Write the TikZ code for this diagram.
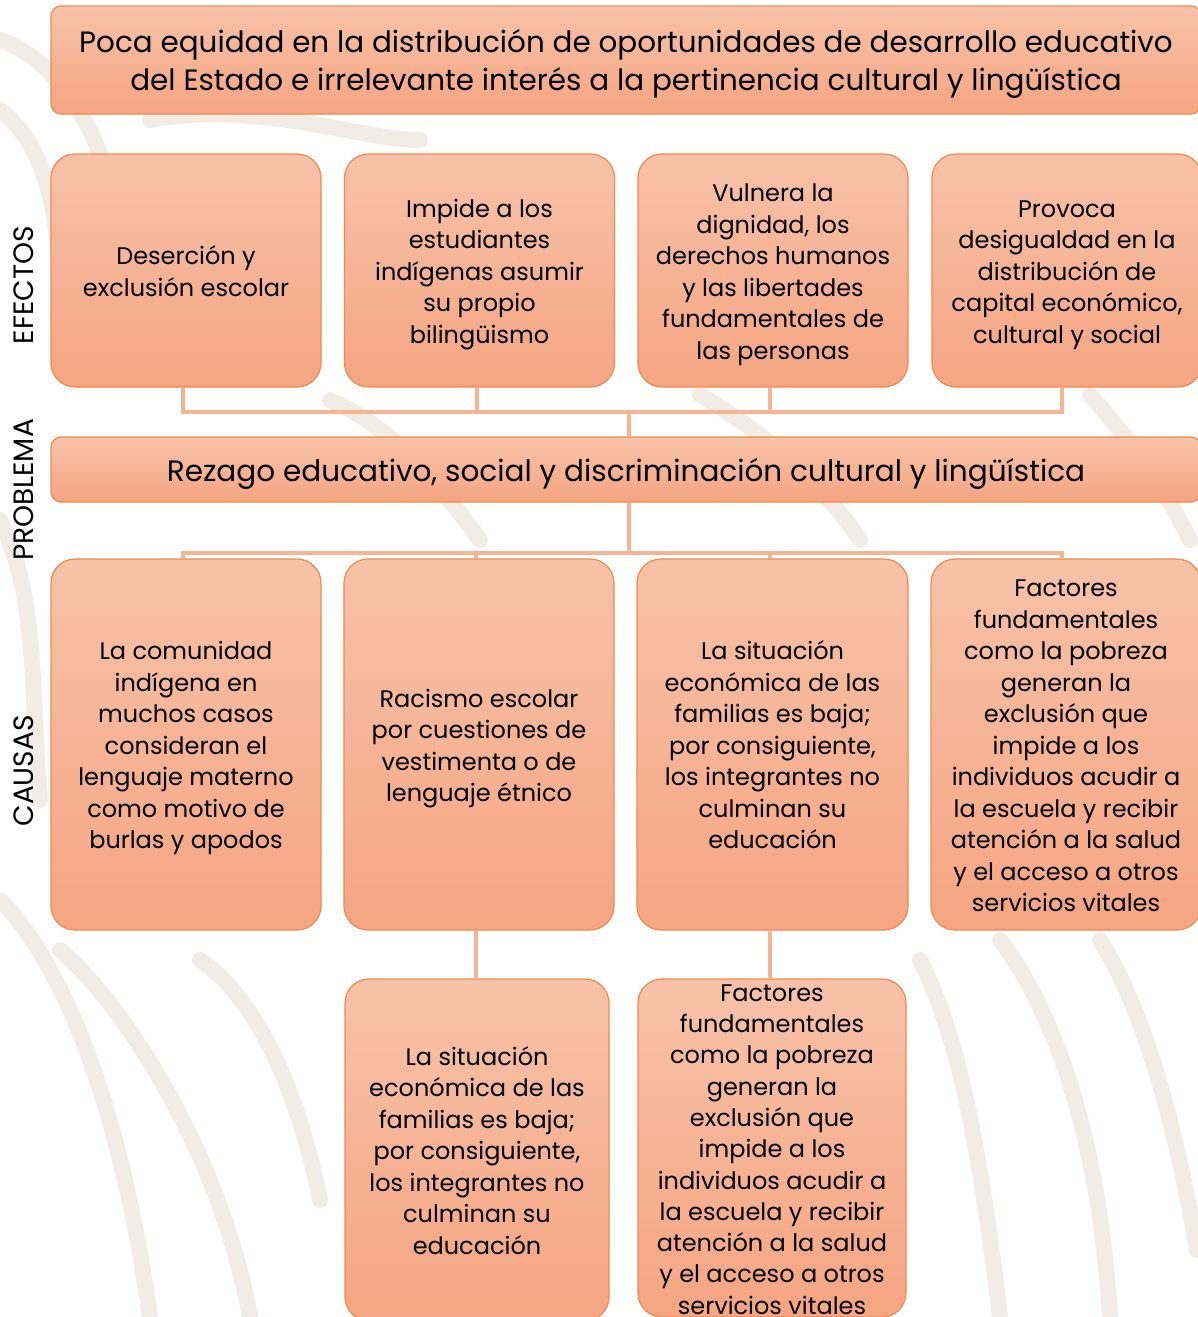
\documentclass[tikz,border=0pt]{standalone}
\usepackage{fontspec}
\setmainfont{Poppins}
\definecolor{boxtop}{HTML}{F7C2A9}
\definecolor{boxbot}{HTML}{F5A582}
\definecolor{boxline}{HTML}{F08A4B}
\definecolor{conncol}{HTML}{F6B592}
\definecolor{wm}{HTML}{EEE8DF}
\newcommand\mystrut[1]{\vrule width0pt height\dimexpr0.7\baselineskip+#1\relax depth\dimexpr0.3\baselineskip\relax}
\newcommand\fl{\vrule width0pt height\dimexpr0.7\baselineskip+7pt\relax depth0pt\relax}
\begin{document}
\begin{tikzpicture}[x=1pt,y=-1pt,
  btxt/.style={inner sep=0pt, align=center, text=black,
    font=\fontsize{24}{31.5}\selectfont,
    execute at begin node=\mystrut{10pt}, execute at end node=\mystrut{0pt}},
  box/.style={btxt, draw=boxline, line width=1.2pt, top color=boxtop, bottom color=boxbot,
    rounded corners=24pt},
  wide/.style={box, rounded corners=10pt},
  conn/.style={draw=conncol, line width=4pt},
  side/.style={rotate=90, font=\fontsize{28}{32}\selectfont, inner sep=0pt},
  wmline/.style={draw=wm, line width=16pt, line cap=round}]
\useasboundingbox (0,0) rectangle (1197,1317);
\fill[white] (0,0) rectangle (1197,1317);
% watermark swirls
\begin{scope}[opacity=0.8]
\draw[wmline] (0,40) .. controls (60,60) and (110,140) .. (120,240);
\draw[wmline] (0,110) .. controls (40,140) and (60,200) .. (60,300);
\draw[wmline] (150,120) .. controls (260,100) and (360,140) .. (420,140);
\draw[wmline] (0,520) .. controls (40,600) and (30,700) .. (40,800);
\draw[wmline] (0,900) .. controls (60,960) and (120,1100) .. (150,1317);
\draw[wmline] (60,950) .. controls (120,1000) and (220,1150) .. (250,1317);
\draw[wmline] (200,960) .. controls (260,1000) and (300,1100) .. (320,1200);
\draw[wmline] (920,960) .. controls (960,1040) and (980,1150) .. (1000,1317);
\draw[wmline] (1000,940) .. controls (1060,1020) and (1100,1150) .. (1110,1317);
\draw[wmline] (1100,940) .. controls (1150,1020) and (1180,1150) .. (1197,1250);
\draw[wmline] (330,400) .. controls (400,430) and (450,500) .. (480,540);
\draw[wmline] (700,395) .. controls (760,430) and (820,480) .. (860,540);
\draw[wmline] (1090,395) .. controls (1130,440) and (1160,480) .. (1190,540);
\end{scope}
% side labels
\node[side] (lefe) at (24,285) {EFECTOS};
\node[side] (lpro) at (24,490) {PROBLEMA};
\node[side] (lcau) at (24,771) {CAUSAS};
% title
\node[wide, minimum width=1150pt, minimum height=108pt, font=\fontsize{29.4}{38}\selectfont] (t) at (626,60)
  {\fl Poca equidad en la distribución de oportunidades de desarrollo educativo\\del Estado e irrelevante interés a la pertinencia cultural y lingüística};
% effects
\node[box, minimum width=270pt, minimum height=233pt] (e1) at (186,270.5) {\fl Deserción y\\exclusión escolar};
\node[box, minimum width=270pt, minimum height=233pt] (e2) at (479.5,270.5) {\fl Impide a los\\estudiantes\\indígenas asumir\\su propio\\bilingüismo};
\node[box, minimum width=270pt, minimum height=233pt] (e3) at (773,270.5) {\fl Vulnera la\\dignidad, los\\derechos humanos\\y las libertades\\fundamentales de\\las personas};
\node[box, minimum width=270pt, minimum height=233pt] (e4) at (1067,270.5) {\fl Provoca\\desigualdad en la\\distribución de\\capital económico,\\cultural y social};
% problem
\node[wide, minimum width=1150pt, minimum height=65pt, font=\fontsize{29.5}{36}\selectfont] (p) at (626,469.5)
  {Rezago educativo, social y discriminación cultural y lingüística};
% causes
\node[box, minimum width=270pt, minimum height=371pt] (c1) at (186,744.5) {\fl La comunidad\\indígena en\\muchos casos\\consideran el\\lenguaje materno\\como motivo de\\burlas y apodos};
\node[box, minimum width=270pt, minimum height=371pt] (c2) at (479,744.5) {\fl Racismo escolar\\por cuestiones de\\vestimenta o de\\lenguaje étnico};
\node[box, minimum width=271pt, minimum height=371pt] (c3) at (772.5,744.5) {\fl La situación\\económica de las\\familias es baja;\\por consiguiente,\\los integrantes no\\culminan su\\educación};
\node[box, minimum width=270pt, minimum height=371pt] (c4) at (1066,744.5) {\fl Factores\\fundamentales\\como la pobreza\\generan la\\exclusión que\\impide a los\\individuos acudir a\\la escuela y recibir\\atención a la salud\\y el acceso a otros\\servicios vitales};
% bottom
\node[box, minimum width=264pt, minimum height=342pt] (b1) at (477,1150) {\fl La situación\\económica de las\\familias es baja;\\por consiguiente,\\los integrantes no\\culminan su\\educación};
\node[box, minimum width=268pt, minimum height=338pt] (b2) at (772,1148) {};
\node[btxt, font=\fontsize{24}{31.3}\selectfont] (b2t) at (b2.center) {\fl Factores\\fundamentales\\como la pobreza\\generan la\\exclusión que\\impide a los\\individuos acudir a\\la escuela y recibir\\atención a la salud\\y el acceso a otros\\servicios vitales};
% connectors
\coordinate (jt) at (629,412);
\coordinate (jb) at (629,553);
\draw[conn] ([xshift=-3pt]e1.south) |- (jt);
\draw[conn] ([xshift=-3pt]e2.south) |- (jt);
\draw[conn] ([xshift=-3pt]e3.south) |- (jt);
\draw[conn] ([xshift=-5pt]e4.south) |- (jt);
\draw[conn] (jt) -- (jt |- p.north);
\draw[conn] (p.south -| jb) -- (jb);
\draw[conn] ([xshift=-3pt]c1.north) |- (jb);
\draw[conn] ([xshift=-3pt]c2.north) |- (jb);
\draw[conn] ([xshift=-3pt]c3.north) |- (jb);
\draw[conn] ([xshift=-4pt]c4.north) |- (jb);
\draw[conn] ([xshift=-3pt]c2.south) -- ([xshift=-3pt]c2.south |- b1.north);
\draw[conn] ([xshift=-3pt]c3.south) -- ([xshift=-3pt]c3.south |- b2.north);
\end{tikzpicture}
\end{document}
